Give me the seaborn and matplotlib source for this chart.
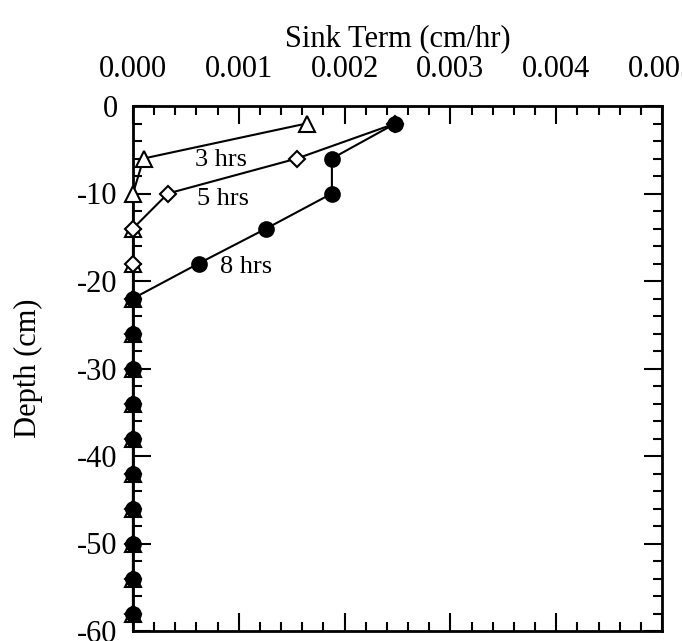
import matplotlib
matplotlib.use("Agg")
import matplotlib.pyplot as plt
import seaborn as sns
import pandas as pd
import numpy as np
from matplotlib.ticker import MultipleLocator, FormatStrFormatter

# ---- data ----
depths = [-2, -6, -10, -14, -18, -22, -26, -30, -34, -38, -42, -46, -50, -54, -58]
sink_3hrs = [0.00164, 0.00010, 0.0, 0.0, 0.0, 0.0, 0.0, 0.0, 0.0, 0.0, 0.0, 0.0, 0.0, 0.0, 0.0]
sink_5hrs = [0.00248, 0.00155, 0.00033, 0.0, 0.0, 0.0, 0.0, 0.0, 0.0, 0.0, 0.0, 0.0, 0.0, 0.0, 0.0]
sink_8hrs = [0.00248, 0.00188, 0.00188, 0.00126, 0.00062, 0.0, 0.0, 0.0, 0.0, 0.0, 0.0, 0.0, 0.0, 0.0, 0.0]
series_names = ["3 hrs", "5 hrs", "8 hrs"]
x_ticks = [0.000, 0.001, 0.002, 0.003, 0.004, 0.005]
y_ticks = [0, -10, -20, -30, -40, -50, -60]

df = pd.concat([
    pd.DataFrame({"sink": s, "depth": depths, "series": n})
    for s, n in zip([sink_3hrs, sink_5hrs, sink_8hrs], series_names)
], ignore_index=True)

sns.set_style("ticks")
plt.rcParams["font.family"] = ["Liberation Serif", "DejaVu Serif"]
plt.rcParams["axes.unicode_minus"] = False
for k in ["text.color", "axes.labelcolor", "xtick.color", "ytick.color", "axes.edgecolor"]:
    plt.rcParams[k] = "black"

fig = plt.figure(figsize=(6.82, 6.41), dpi=100)
ax = fig.add_axes([133 / 682, 1 - 631 / 641, (662 - 133) / 682, (631 - 106) / 641])

styles = {
    "3 hrs": dict(marker="^", mfc="white", mec="black", ms=11),
    "5 hrs": dict(marker="D", mfc="white", mec="black", ms=8.5),
    "8 hrs": dict(marker="o", mfc="black", mec="black", ms=10.5),
}
for name in series_names:
    sub = df[df["series"] == name]
    st = styles[name]
    sns.lineplot(data=sub, x="sink", y="depth", sort=False, estimator=None,
                 color="black", linewidth=1.5, marker=st["marker"],
                 markersize=st["ms"], markerfacecolor=st["mfc"],
                 markeredgecolor=st["mec"], markeredgewidth=1.5,
                 ax=ax, legend=False, zorder=3, clip_on=False)

ax.set_xlim(0, 0.005)
ax.set_ylim(-60, 0)
ax.set_xticks(x_ticks)
ax.set_yticks(y_ticks)
ax.xaxis.set_major_formatter(FormatStrFormatter("%.3f"))
ax.xaxis.set_minor_locator(MultipleLocator(0.0002))
ax.yaxis.set_minor_locator(MultipleLocator(2))

ax.tick_params(which="both", direction="in", top=True, bottom=True, left=True, right=True,
               labeltop=True, labelbottom=False, width=1.5, color="black")
ax.tick_params(which="major", length=13)
ax.tick_params(which="minor", length=6.5)
ax.tick_params(axis="x", which="major", pad=16, labelsize=22)
ax.tick_params(axis="y", which="major", pad=11, labelsize=22)

for sp in ax.spines.values():
    sp.set_visible(True)
    sp.set_linewidth(2)
    sp.set_color("black")

ax.xaxis.set_label_position("top")
ax.set_xlabel("Sink Term (cm/hr)", fontsize=22, labelpad=6)
ax.set_ylabel("Depth (cm)", fontsize=22)
ax.yaxis.set_label_coords(-0.198, 0.5)
ax.yaxis.label.set_va("center")

ax.text(0.00083, -6.2, "3 hrs", fontsize=19, ha="center", va="center")
ax.text(0.00085, -10.6, "5 hrs", fontsize=19, ha="center", va="center")
ax.text(0.00107, -18.4, "8 hrs", fontsize=19, ha="center", va="center")

fig.savefig("out.png", dpi=100)
